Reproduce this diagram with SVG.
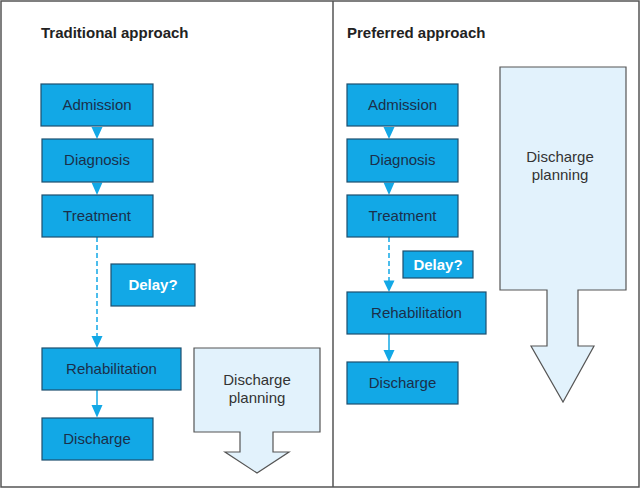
<svg xmlns="http://www.w3.org/2000/svg" width="640" height="488" viewBox="0 0 640 488">
<style>
.frame{fill:#fff;stroke:#555;stroke-width:1.5}
.box{fill:#12a8e6;stroke:#1d4f6e;stroke-width:1.2}
.lbl{font-family:"Liberation Sans",Arial,sans-serif;font-size:15px;fill:#1b2f4a;text-anchor:middle}
.dly{font-family:"Liberation Sans",Arial,sans-serif;font-size:15px;font-weight:bold;fill:#fff;text-anchor:middle}
.ttl{font-family:"Liberation Sans",Arial,sans-serif;font-size:15px;font-weight:bold;fill:#222}
.big{fill:#e2f2fc;stroke:#555;stroke-width:1.2}
.plan{font-family:"Liberation Sans",Arial,sans-serif;font-size:15px;fill:#333;text-anchor:middle}
.con{stroke:#12a8e6;stroke-width:1.5;fill:none}
.dash{stroke-dasharray:5 3}
.head{fill:#12a8e6}
</style>
<rect class="frame" x="1" y="1" width="638" height="486"/>
<line x1="333" y1="1" x2="333" y2="487" stroke="#555" stroke-width="1.5"/>
<text class="ttl" x="41" y="38">Traditional approach</text>
<text class="ttl" x="347" y="38">Preferred approach</text>

<g id="connectors">
<polygon class="head" points="91.5,127 102.5,127 97,139"/>
<polygon class="head" points="91.5,182.5 102.5,182.5 97,195"/>
<line class="con dash" x1="97" y1="237" x2="97" y2="337"/>
<polygon class="head" points="91.5,336 102.5,336 97,348"/>
<line class="con" x1="97" y1="390" x2="97" y2="406"/>
<polygon class="head" points="91.5,405 102.5,405 97,417.5"/>
<polygon class="head" points="383.5,127 394.5,127 389,139"/>
<polygon class="head" points="383.5,182.5 394.5,182.5 389,195"/>
<line class="con dash" x1="389" y1="237" x2="389" y2="281"/>
<polygon class="head" points="383.5,280.5 394.5,280.5 389,292"/>
<line class="con" x1="389" y1="334" x2="389" y2="351"/>
<polygon class="head" points="383.5,350 394.5,350 389,362"/>
</g>

<g id="t-admission"><rect class="box" x="41" y="84" width="112" height="42"/><text class="lbl" x="97" y="110">Admission</text></g>
<g id="t-diagnosis"><rect class="box" x="42" y="139" width="111" height="43"/><text class="lbl" x="97" y="165">Diagnosis</text></g>
<g id="t-treatment"><rect class="box" x="42" y="195" width="111" height="42"/><text class="lbl" x="97" y="221">Treatment</text></g>
<g id="t-delay"><rect class="box" x="111" y="264" width="84" height="42"/><text class="dly" x="153" y="290">Delay?</text></g>
<g id="t-rehab"><rect class="box" x="42" y="348" width="139" height="42"/><text class="lbl" x="111.5" y="374">Rehabilitation</text></g>
<g id="t-discharge"><rect class="box" x="42" y="418" width="111" height="42"/><text class="lbl" x="97" y="444">Discharge</text></g>
<g id="t-planning"><polygon class="big" points="194,348 320,348 320,432 273,432 273,452 289,452 257,473 225,452 240,452 240,432 194,432"/><text class="plan" x="257" y="385">Discharge</text><text class="plan" x="257" y="403">planning</text></g>

<g id="p-admission"><rect class="box" x="347" y="84" width="111" height="42"/><text class="lbl" x="402.5" y="110">Admission</text></g>
<g id="p-diagnosis"><rect class="box" x="347" y="139" width="111" height="43"/><text class="lbl" x="402.5" y="165">Diagnosis</text></g>
<g id="p-treatment"><rect class="box" x="347" y="195" width="111" height="42"/><text class="lbl" x="402.5" y="221">Treatment</text></g>
<g id="p-delay"><rect class="box" x="403" y="251" width="70" height="27"/><text class="dly" x="438" y="270">Delay?</text></g>
<g id="p-rehab"><rect class="box" x="347" y="292" width="139" height="42"/><text class="lbl" x="416.5" y="318">Rehabilitation</text></g>
<g id="p-discharge"><rect class="box" x="347" y="362" width="111" height="42"/><text class="lbl" x="402.5" y="388">Discharge</text></g>
<g id="p-planning"><polygon class="big" points="500,67 626,67 626,290 578,290 578,346 594,346 563,402 531,346 547,346 547,290 500,290"/><text class="plan" x="560" y="162">Discharge</text><text class="plan" x="560" y="180">planning</text></g>
</svg>
